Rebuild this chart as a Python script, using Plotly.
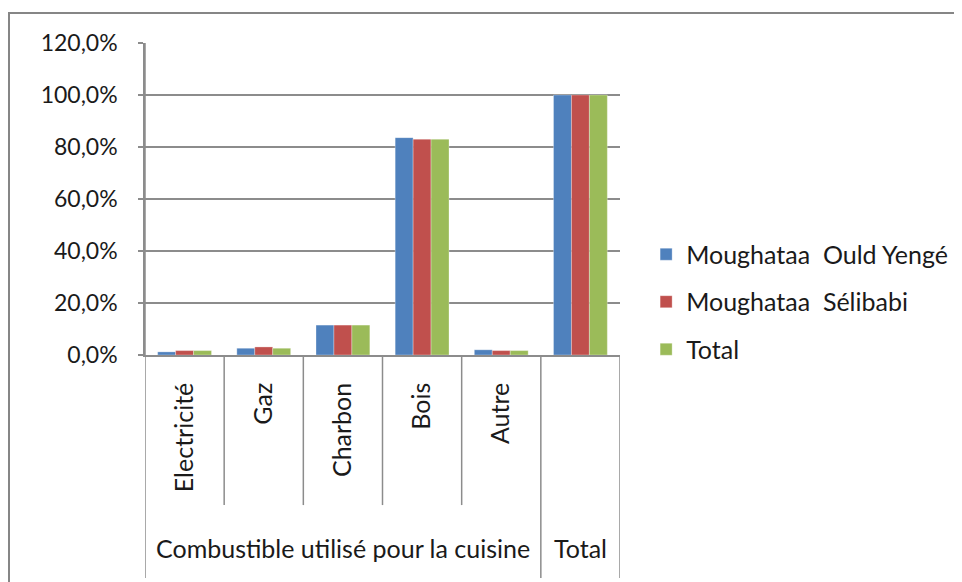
import plotly.graph_objects as go

categories = ["Electricité", "Gaz", "Charbon", "Bois", "Autre", "Total "]
tick_labels = ["Electricité", "Gaz", "Charbon", "Bois", "Autre", ""]
group_labels = ["Combustible utilisé pour la cuisine", "Total"]
series_names = ["Moughataa  Ould Yengé", "Moughataa  Sélibabi", "Total"]
ould_yenge = [0.012, 0.026, 0.115, 0.836, 0.020, 1.0]
selibabi = [0.017, 0.031, 0.115, 0.830, 0.017, 1.0]
total = [0.017, 0.026, 0.115, 0.830, 0.017, 1.0]
colors = ["#4F81BD", "#C0504D", "#9BBB59"]

FONT = "Lato"
GRID = "#8c8c8c"
TXT = "#1a1a1a"

fig = go.Figure()
for i, (name, vals) in enumerate(zip(series_names, [ould_yenge, selibabi, total])):
    fig.add_trace(go.Bar(
        x=categories, y=vals, name=name,
        marker=dict(color=colors[i], line=dict(width=0.6, color="rgba(255,255,255,0.5)")),
        legendgroup=f"g{i}",
    ))

shapes = []
# outer chart border
shapes.append(dict(type="rect", xref="paper", yref="paper",
                   x0=-0.2863, x1=1.75, y0=-0.8, y1=1.0962,
                   line=dict(color="#868686", width=2), layer="below"))
# left axis extension
shapes.append(dict(type="line", xref="x", yref="paper", x0=-0.5, x1=-0.5,
                   y0=-0.715, y1=1.0, line=dict(color=GRID, width=1.5)))
# inner dividers
for k in [0.5, 1.5, 2.5, 3.5]:
    shapes.append(dict(type="line", xref="x", yref="paper", x0=k, x1=k,
                       y0=-0.481, y1=0, line=dict(color=GRID, width=1.5)))
# group dividers
for k in [4.5, 5.5]:
    shapes.append(dict(type="line", xref="x", yref="paper", x0=k, x1=k,
                       y0=-0.715, y1=0, line=dict(color=GRID, width=1.5)))

annotations = [
    dict(x=2.0, y=-0.619, xref="x", yref="paper", text=group_labels[0],
         showarrow=False, font=dict(family=FONT, size=25, color=TXT),
         xanchor="center", yanchor="middle"),
    dict(x=5.0, y=-0.619, xref="x", yref="paper", text=group_labels[1],
         showarrow=False, font=dict(family=FONT, size=25, color=TXT),
         xanchor="center", yanchor="middle"),
]

fig.update_layout(
    width=962, height=582,
    margin=dict(l=137, r=350, t=35, b=235),
    paper_bgcolor="white", plot_bgcolor="white",
    barmode="group", bargap=0.32, bargroupgap=0,
    separators=", ",
    font=dict(family=FONT, size=24, color=TXT),
    showlegend=True,
    legend=dict(x=1.055, y=0.17, xanchor="left", yanchor="middle",
                font=dict(family=FONT, size=25, color=TXT),
                traceorder="grouped", tracegroupgap=12,
                bgcolor="rgba(0,0,0,0)"),
    xaxis=dict(type="category", range=[-0.5, 5.5], tickangle=-90,
               tickmode="array", tickvals=categories, ticktext=tick_labels,
               showgrid=False, showline=True, linecolor=GRID, linewidth=1.5,
               ticks="", ticklabelstandoff=16,
               tickfont=dict(family=FONT, size=25, color=TXT),
               fixedrange=True),
    yaxis=dict(range=[0, 1.2], dtick=0.2, tickformat=".1%",
               showgrid=True, gridcolor=GRID, gridwidth=1.5,
               showline=True, linecolor=GRID, linewidth=1.5,
               ticks="outside", ticklen=5, tickcolor=GRID, tickwidth=1.5,
               ticklabelstandoff=16, zeroline=False,
               tickfont=dict(family=FONT, size=23, color=TXT),
               fixedrange=True),
    shapes=shapes,
    annotations=annotations,
)

fig.write_html("out.html")
